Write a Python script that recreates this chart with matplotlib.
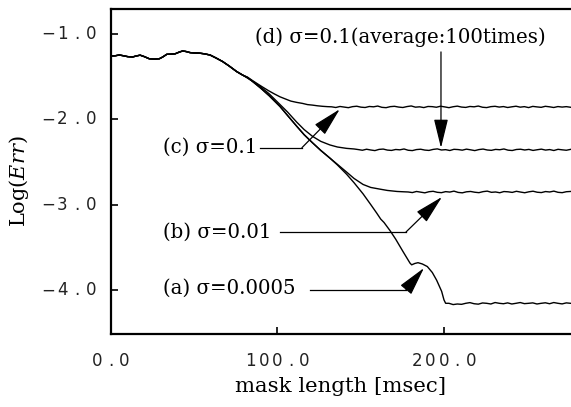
import numpy as np
import matplotlib
import matplotlib.pyplot as plt
from matplotlib.transforms import offset_copy

plt.rcParams['mathtext.fontset'] = 'dejavuserif'

# common start of all four curves (mask length [msec], Log(Err))
start_x = [0, 2.5, 5, 7.5, 10, 13, 15, 17.5, 20, 23, 26, 29, 31, 33.5, 36, 38.5,
           41, 43, 45, 47.5, 50, 53, 56, 59.5, 63, 67, 71, 75.5, 79]
start_y = [-1.257, -1.255, -1.246, -1.255, -1.265, -1.269, -1.258, -1.248, -1.265,
           -1.290, -1.294, -1.290, -1.270, -1.238, -1.236, -1.232, -1.212, -1.199,
           -1.205, -1.218, -1.222, -1.224, -1.232, -1.246, -1.280, -1.322, -1.375,
           -1.440, -1.480]

# sigma=0.1 single run
c_x = [82, 85, 88, 91, 94.5, 98, 101.5, 105, 108, 111.5, 115, 118, 121, 124, 127, 130]
c_y = [-1.505, -1.545, -1.583, -1.620, -1.662, -1.700, -1.735, -1.762, -1.785, -1.800,
       -1.812, -1.826, -1.832, -1.840, -1.846, -1.850]
c_flat = [-1.852, -1.860, -1.848, -1.855, -1.862, -1.850, -1.845, -1.856, -1.860, -1.848,
          -1.852, -1.843, -1.858, -1.862, -1.850, -1.846, -1.855, -1.860, -1.849, -1.842,
          -1.856, -1.852, -1.861, -1.848, -1.850, -1.857, -1.845, -1.853, -1.862, -1.851,
          -1.844, -1.855, -1.859, -1.848, -1.852, -1.843, -1.857, -1.861, -1.850, -1.846,
          -1.855, -1.849, -1.860, -1.852, -1.845, -1.856, -1.850, -1.861, -1.847, -1.853,
          -1.858, -1.846, -1.852, -1.860, -1.849, -1.855, -1.850, -1.857]

# sigma=0.1 averaged over 100 runs
d_x = [85, 89.5, 95, 101.5, 106, 111.5, 116, 121, 126, 131.5, 136, 141.5, 146]
d_y = [-1.552, -1.612, -1.700, -1.825, -1.912, -2.030, -2.118, -2.197, -2.256, -2.298,
       -2.322, -2.338, -2.345]
d_flat = [-2.352, -2.360, -2.348, -2.357, -2.364, -2.350, -2.346, -2.358, -2.362, -2.351,
          -2.355, -2.345, -2.360, -2.364, -2.352, -2.348, -2.358, -2.362, -2.350, -2.344,
          -2.357, -2.353, -2.363, -2.349, -2.352, -2.359, -2.347, -2.355, -2.364, -2.352,
          -2.346, -2.357, -2.361, -2.350, -2.354, -2.345, -2.359, -2.363, -2.351, -2.348,
          -2.357, -2.350, -2.362, -2.354, -2.347, -2.358, -2.352, -2.363, -2.349, -2.355,
          -2.360, -2.350]

# sigma=0.01 and sigma=0.0005 share this part
ab_x = [82, 85, 90, 95, 101.5, 106, 111.5, 116, 121, 126, 131.5]
ab_y = [-1.510, -1.555, -1.635, -1.722, -1.848, -1.952, -2.078, -2.178, -2.272, -2.362,
        -2.452]

# sigma=0.01
b_x = [136, 141.5, 146, 151.4, 156, 161.6, 166, 171.8, 176]
b_y = [-2.525, -2.615, -2.690, -2.760, -2.795, -2.815, -2.830, -2.842, -2.846]
b_flat = [-2.848, -2.855, -2.842, -2.850, -2.858, -2.845, -2.840, -2.852, -2.856, -2.844,
          -2.849, -2.838, -2.853, -2.858, -2.846, -2.842, -2.851, -2.856, -2.844, -2.838,
          -2.852, -2.848, -2.857, -2.843, -2.846, -2.853, -2.840, -2.849, -2.857, -2.846,
          -2.839, -2.851, -2.855, -2.843, -2.848, -2.838, -2.852, -2.856, -2.845, -2.842]

# sigma=0.0005
a_x = [136, 141.5, 146, 151.4, 156, 159.6, 162, 164, 167.6, 171, 175.4, 179.6, 180.6,
       182.5, 184.4, 187, 190, 193, 195.6, 198.6, 200, 201]
a_y = [-2.532, -2.640, -2.740, -2.870, -2.995, -3.095, -3.165, -3.205, -3.300, -3.400,
       -3.545, -3.680, -3.700, -3.684, -3.675, -3.690, -3.720, -3.790, -3.880, -4.010,
       -4.110, -4.150]
a_flat = [-4.150, -4.165, -4.158, -4.162, -4.150, -4.142, -4.155, -4.160, -4.146, -4.150,
          -4.158, -4.141, -4.150, -4.155, -4.145, -4.158, -4.150, -4.141, -4.154, -4.150,
          -4.145, -4.158, -4.150, -4.144, -4.155, -4.141, -4.150, -4.157, -4.145, -4.150]

x_end = 276

fig = plt.figure(figsize=(5.71, 4.07), dpi=100)
ax = fig.add_axes([111 / 571, 1 - 334 / 407, 460 / 571, 325 / 407])


def curve(mid_x, mid_y, flat, flat_from):
    xs = start_x + mid_x + list(np.linspace(flat_from, x_end, len(flat)))
    ys = start_y + mid_y + flat
    return xs, ys


curves = [
    curve(c_x, c_y, c_flat, 132.5),
    curve(d_x, d_y, d_flat, 148.5),
    curve(ab_x + b_x, ab_y + b_y, b_flat, 178.5),
    curve(ab_x + a_x, ab_y + a_y, a_flat, 203),
]
for xs, ys in curves:
    ax.plot(xs, ys, color='black', lw=1.0)

ax.set_xlim(0, 276.3)
ax.set_ylim(-4.509, -0.708)
ax.spines['right'].set_visible(False)
for s in ['left', 'top', 'bottom']:
    ax.spines[s].set_linewidth(1.6)
ax.set_xticks([0, 100, 200])
ax.set_yticks([-1, -2, -3, -4])
ax.tick_params(direction='in', length=5, width=1.2,
               labelbottom=False, labelleft=False)

# tick labels with wide letter spacing
tick_kw = dict(fontsize=12, family='DejaVu Sans', color='#222222',
               ha='center', va='center')
for v in [-1, -2, -3, -4]:
    s = '\u2212%.1f' % abs(v)
    n = len(s)
    for i, ch in enumerate(s):
        tr = offset_copy(ax.get_yaxis_transform(), fig=fig,
                         x=-20 - (n - 1 - i) * 14.3, y=0, units='dots')
        ax.text(0, v, ch, transform=tr, **tick_kw)
for v in [0, 100, 200]:
    s = '%.1f' % v
    n = len(s)
    for i, ch in enumerate(s):
        tr = offset_copy(ax.get_xaxis_transform(), fig=fig,
                         x=(i - (n - 1) / 2) * 13.4, y=-27, units='dots')
        ax.text(v, 0, ch, transform=tr, **tick_kw)

serif = 'DejaVu Serif'
ax.set_xlabel('mask length [msec]', family=serif, fontsize=15.3, labelpad=31)
ax.set_ylabel('Log(' + r'$\mathit{Err}$' + ')', family=serif, fontsize=15)
ax.yaxis.set_label_coords(-80 / 460, 0.47)

txt_kw = dict(family=serif, fontsize=14.2, va='center', ha='left')
ax.text(86.4, -1.035, '(d) \u03c3=0.1(average:100times)', **txt_kw)
ax.text(31.5, -2.33, '(c) \u03c3=0.1', **txt_kw)
ax.text(31.5, -3.316, '(b) \u03c3=0.01', **txt_kw)
ax.text(31.5, -3.97, '(a) \u03c3=0.0005', **txt_kw)

arrow = dict(arrowstyle='-|>,head_length=0.9,head_width=0.22', color='black',
             lw=0.9, mutation_scale=20, shrinkA=0, shrinkB=0)
# (d) vertical arrow
ax.annotate('', xy=(198.2, -2.333), xytext=(198.2, -1.21), arrowprops=arrow)
# (c)
ax.plot([89.5, 114.7], [-2.33, -2.33], color='black', lw=0.9)
ax.annotate('', xy=(137.4, -1.88), xytext=(114.7, -2.33), arrowprops=arrow)
# (b)
ax.plot([101.5, 177.2], [-3.316, -3.316], color='black', lw=0.9)
ax.annotate('', xy=(198.8, -2.906), xytext=(177.2, -3.316), arrowprops=arrow)
# (a)
ax.plot([119.5, 177.2], [-3.99, -3.99], color='black', lw=0.9)
ax.annotate('', xy=(188.0, -3.737), xytext=(177.2, -3.99), arrowprops=arrow)

fig.savefig('out.png', dpi=100)
